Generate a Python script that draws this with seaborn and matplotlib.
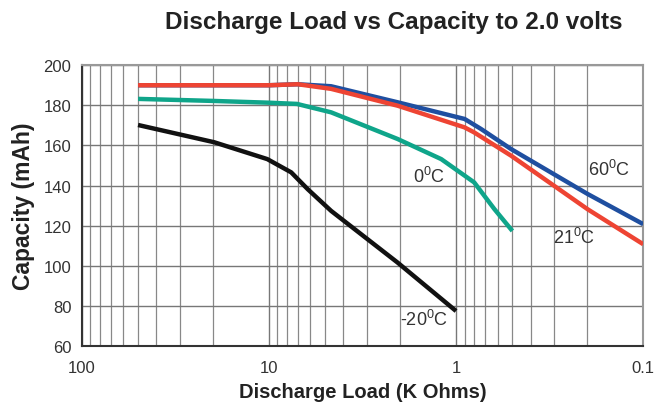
import numpy as np
import pandas as pd
import seaborn as sns
import matplotlib
matplotlib.use("Agg")
import matplotlib.pyplot as plt
from matplotlib.ticker import LogLocator, FixedLocator, NullFormatter

sns.set_style("white")
plt.rcParams['font.family'] = ['Liberation Sans', 'DejaVu Sans']
plt.rcParams['mathtext.fontset'] = 'custom'
plt.rcParams['mathtext.rm'] = 'Liberation Sans'

# Data (load in K Ohms, capacity in mAh)
load_60 = [50, 20, 10, 7.0, 4.65, 2.05, 0.9, 0.735, 0.508, 0.198, 0.1]
cap_60 = [190, 190, 190, 190.5, 189.5, 181.5, 173.2, 168.2, 158.2, 135.8, 120.8]
load_21 = [50, 20, 10, 7.0, 4.65, 2.05, 0.9, 0.8, 0.508, 0.198, 0.1]
cap_21 = [190, 190, 190, 190.5, 188.2, 179.8, 169, 166.5, 154.9, 128.2, 110.8]
load_0 = [50, 20, 10, 7.08, 4.65, 2.05, 1.2, 0.8, 0.624, 0.5]
cap_0 = [183.2, 182.2, 181.3, 180.7, 176.5, 163.2, 153.2, 141.6, 128.3, 117.4]
load_m20 = [50, 19.6, 10.2, 7.6, 6.2, 4.65, 2.05, 1.0]
cap_m20 = [170.2, 161.6, 153.2, 146.6, 138.2, 127.4, 101.6, 77.5]

series = [("60", load_60, cap_60, "#1F4FA0"),
          ("21", load_21, cap_21, "#EE4433"),
          ("0", load_0, cap_0, "#0FA58A"),
          ("-20", load_m20, cap_m20, "#111111")]

labels = ["60", "21", "0", "-20"]
label_x = [0.152, 0.234, 1.39, 1.48]
label_y = [148.2, 114.3, 144.7, 73.4]

xticks = [100, 10, 1, 0.1]
xtick_labels = ["100", "10", "1", "0.1"]
yticks = [60, 80, 100, 120, 140, 160, 180, 200]

fig = plt.figure(figsize=(6.59, 4.06), dpi=100)
ax = fig.add_axes([0.124, 0.145, 0.852, 0.692])

for name, lx, cy, col in series:
    df = pd.DataFrame({"load": lx, "cap": cy})
    sns.lineplot(data=df, x="load", y="cap", ax=ax, color=col, lw=3.2,
                 solid_capstyle="butt", zorder=3)

ax.set_xscale("log")
ax.set_xlim(100, 0.1)
ax.set_ylim(60, 200)

ax.xaxis.set_major_locator(FixedLocator(xticks))
ax.set_xticklabels(xtick_labels)
ax.xaxis.set_minor_locator(LogLocator(base=10, subs=np.arange(2, 10)))
ax.xaxis.set_minor_formatter(NullFormatter())
ax.set_yticks(yticks)

ax.grid(True, which="major", axis="both", color="#777777", lw=1.0, zorder=0)
ax.grid(True, which="minor", axis="x", color="#888888", lw=0.9, zorder=0)

ax.tick_params(axis="both", which="major", labelsize=12, labelcolor="#333333",
               length=4, width=1, color="#444444", direction="out")
ax.tick_params(axis="x", which="minor", length=3, width=0.8, color="#666666",
               direction="out")
ax.tick_params(axis="x", which="major", pad=6)

for s in ["left", "bottom"]:
    ax.spines[s].set_color("#333333")
    ax.spines[s].set_linewidth(1.5)
for s in ["top", "right"]:
    ax.spines[s].set_color("#999999")
    ax.spines[s].set_linewidth(1.5)

for lab, x, y in zip(labels, label_x, label_y):
    ax.text(x, y, r"$\mathregular{\text{" + lab + r"}^{0}C}$", fontsize=13,
            color="#333333", ha="center", va="center", zorder=4)

ax.set_xlabel("Discharge Load (K Ohms)", fontsize=14.5, fontweight="bold",
              color="#222222", labelpad=5)
ax.set_ylabel("Capacity (mAh)", fontsize=16.5, fontweight="bold",
              color="#222222", labelpad=6)
fig.text(0.598, 0.945, "Discharge Load vs Capacity to 2.0 volts", fontsize=17.5,
         fontweight="bold", color="#222222", ha="center", va="center")

fig.savefig("out.png", dpi=100)
